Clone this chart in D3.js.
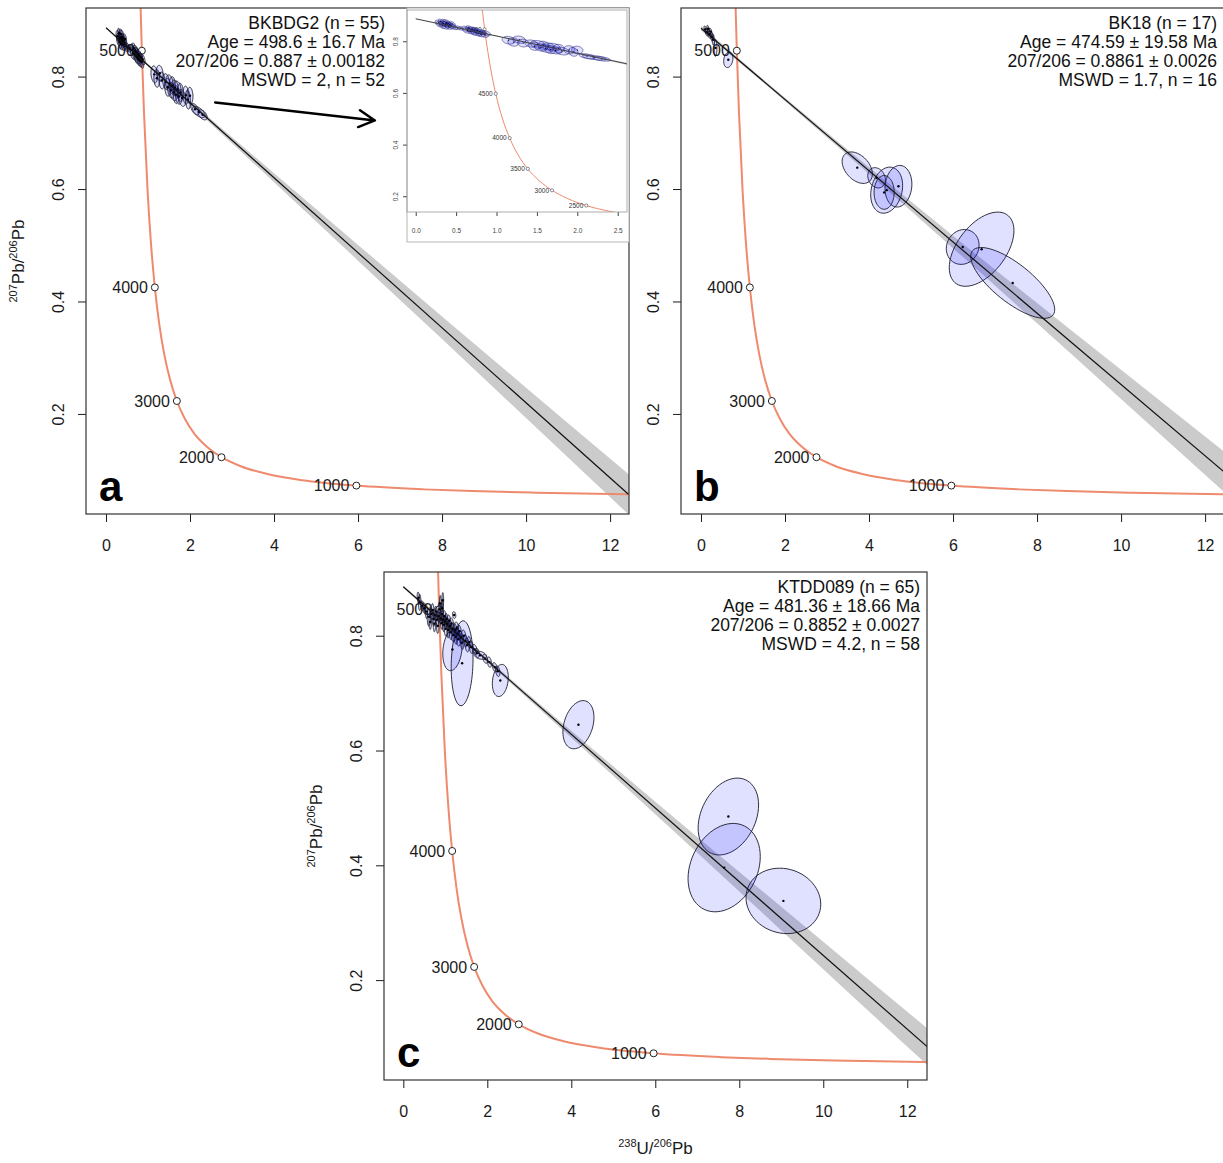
<!DOCTYPE html>
<html>
<head>
<meta charset="utf-8">
<script src="https://cdn.jsdelivr.net/npm/d3@7"></script>
<style>
body { margin: 0; background: #fff; }
svg { display: block; }
text { font-family: "Liberation Sans", Arial, Helvetica, sans-serif; }
</style>
</head>
<body>
<svg id="chart" width="1223" height="1163"></svg>
<script>
// sample names and fit results
var PANEL_LETTERS = ['a', 'b', 'c'];
var SAMPLES = ['BKBDG2 (n = 55)', 'BK18 (n = 17)', 'KTDD089 (n = 65)'];
var AGE_LABELS = ['Age = 498.6 \u00b1 16.7 Ma', 'Age = 474.59 \u00b1 19.58 Ma', 'Age = 481.36 \u00b1 18.66 Ma'];
var RATIO_LABELS = ['207/206 = 0.887 \u00b1 0.00182', '207/206 = 0.8861 \u00b1 0.0026', '207/206 = 0.8852 \u00b1 0.0027'];
var MSWD_LABELS = ['MSWD = 2, n = 52', 'MSWD = 1.7, n = 16', 'MSWD = 4.2, n = 58'];

// discordia: 207/206 intercept at x=0 and the lower intercept on the concordia
var INTERCEPT_Y = [0.887, 0.8861, 0.8852];
var LOWER_X = [12.436, 13.089, 12.899];
var LOWER_Y = [0.0572, 0.0566, 0.0568];

// error envelope half widths (207/206 units) at BAND_X
var BAND_X = [0, 2, 4, 6, 8, 10, 12.5];
var BAND_A = [0.001, 0.003, 0.008, 0.014, 0.020, 0.027, 0.036];
var BAND_B = [0.004, 0.003, 0.006, 0.011, 0.018, 0.026, 0.036];
var BAND_C = [0.002, 0.003, 0.006, 0.011, 0.017, 0.024, 0.032];

// Tera-Wasserburg concordia, ages in Ma
var CONC_AGE = [5200, 5150, 5100, 5000, 4800, 4500, 4250, 4000, 3750, 3500, 3250, 3000, 2750, 2500, 2250, 2000, 1750, 1500, 1250, 1000, 800, 700, 600, 500, 450];
var CONC_X = [0.806, 0.818, 0.829, 0.853, 0.905, 0.990, 1.071, 1.163, 1.267, 1.387, 1.525, 1.687, 1.880, 2.111, 2.394, 2.749, 3.206, 3.817, 4.673, 5.960, 7.568, 8.718, 10.252, 12.399, 13.831];
var CONC_Y = [0.974, 0.940, 0.908, 0.846, 0.735, 0.597, 0.503, 0.425, 0.360, 0.306, 0.261, 0.223, 0.191, 0.164, 0.142, 0.123, 0.107, 0.0936, 0.0822, 0.0725, 0.0658, 0.0628, 0.0599, 0.0572, 0.0560];
var MARK_AGES = [1000, 2000, 3000, 4000, 5000];
var INSET_MARK_AGES = [2000, 2500, 3000, 3500, 4000, 4500, 5000];

// error ellipses: [238U/206Pb, 207Pb/206Pb, half width x, half width y, rho]
var ELL_A = [
	[0.28,0.872,0.04,0.010,-0.4],[0.30,0.866,0.05,0.011,-0.3],[0.31,0.877,0.03,0.009,-0.5],[0.33,0.861,0.04,0.012,-0.4],
	[0.34,0.869,0.05,0.010,-0.3],[0.35,0.876,0.04,0.009,-0.4],[0.36,0.858,0.05,0.011,-0.5],[0.37,0.866,0.04,0.010,-0.4],
	[0.38,0.871,0.05,0.012,-0.3],[0.39,0.862,0.04,0.010,-0.4],[0.40,0.868,0.03,0.009,-0.5],[0.41,0.857,0.05,0.011,-0.4],
	[0.42,0.864,0.04,0.010,-0.3],[0.44,0.860,0.05,0.011,-0.4],[0.45,0.867,0.04,0.009,-0.4],[0.47,0.855,0.05,0.010,-0.5],
	[0.52,0.852,0.04,0.007,-0.3],[0.56,0.850,0.03,0.007,-0.3],
	[0.62,0.848,0.05,0.010,-0.4],[0.64,0.842,0.06,0.011,-0.3],[0.66,0.851,0.04,0.009,-0.4],[0.68,0.839,0.05,0.011,-0.5],
	[0.70,0.846,0.06,0.010,-0.4],[0.72,0.836,0.05,0.012,-0.3],[0.73,0.843,0.04,0.010,-0.4],[0.75,0.833,0.06,0.011,-0.4],
	[0.76,0.840,0.05,0.010,-0.5],[0.78,0.830,0.04,0.011,-0.3],[0.79,0.837,0.06,0.010,-0.4],[0.81,0.828,0.05,0.011,-0.4],
	[0.83,0.834,0.04,0.009,-0.3],[0.85,0.826,0.05,0.011,-0.4],[0.87,0.831,0.06,0.010,-0.5],
	[1.15,0.804,0.08,0.015,-0.2],[1.21,0.797,0.07,0.016,-0.1],[1.28,0.806,0.08,0.014,-0.2],[1.33,0.793,0.07,0.015,-0.1],
	[1.43,0.791,0.08,0.014,-0.2],[1.47,0.781,0.07,0.016,-0.1],[1.51,0.788,0.09,0.015,-0.2],[1.55,0.776,0.08,0.014,-0.2],
	[1.58,0.784,0.07,0.016,-0.1],[1.61,0.772,0.09,0.015,-0.3],[1.64,0.780,0.08,0.014,-0.2],[1.67,0.768,0.07,0.016,-0.1],
	[1.70,0.777,0.09,0.015,-0.2],[1.73,0.765,0.08,0.014,-0.2],[1.77,0.772,0.07,0.016,-0.1],[1.81,0.762,0.09,0.015,-0.3],
	[1.90,0.767,0.07,0.016,-0.1],[1.95,0.759,0.06,0.017,-0.2],[2.00,0.766,0.07,0.015,-0.1],
	[2.12,0.742,0.10,0.010,-0.5],[2.21,0.737,0.15,0.010,-0.6],[2.30,0.732,0.11,0.009,-0.5]
];
var ELL_B = [
	[0.10,0.884,0.03,0.006,-0.5],[0.14,0.879,0.04,0.007,-0.4],[0.17,0.885,0.03,0.006,-0.6],[0.20,0.876,0.04,0.008,-0.4],
	[0.23,0.880,0.03,0.006,-0.5],[0.26,0.871,0.04,0.008,-0.4],[0.29,0.866,0.03,0.010,-0.3],[0.345,0.851,0.035,0.015,0.0],
	[0.65,0.830,0.11,0.014,0.2],
	[3.72,0.638,0.36,0.028,-0.4],[4.18,0.620,0.21,0.018,-0.2],[4.42,0.598,0.38,0.041,0.2],[4.70,0.605,0.32,0.037,0.1],
	[4.36,0.594,0.24,0.030,0.0],
	[6.23,0.497,0.39,0.031,0.1],[6.68,0.493,0.77,0.066,0.5],[7.42,0.433,1.00,0.063,-0.75]
];
var ELL_C = [
	[0.36,0.866,0.03,0.010,-0.3],[0.39,0.858,0.03,0.014,0.0],[0.45,0.852,0.03,0.009,-0.3],[0.50,0.848,0.04,0.010,-0.4],
	[0.55,0.842,0.03,0.012,-0.2],[0.61,0.833,0.04,0.016,0.1],[0.64,0.824,0.03,0.013,0.0],[0.67,0.838,0.04,0.010,-0.3],
	[0.70,0.845,0.03,0.011,-0.2],[0.72,0.829,0.04,0.012,-0.3],[0.74,0.821,0.03,0.014,0.0],[0.76,0.836,0.04,0.010,-0.3],
	[0.78,0.842,0.03,0.009,-0.4],[0.80,0.828,0.04,0.011,-0.3],[0.82,0.817,0.03,0.013,0.0],[0.84,0.834,0.04,0.010,-0.3],
	[0.86,0.846,0.03,0.012,-0.2],[0.88,0.856,0.02,0.014,0.0],[0.89,0.830,0.04,0.010,-0.3],[0.91,0.822,0.03,0.011,-0.4],
	[0.92,0.838,0.04,0.012,-0.3],[0.94,0.862,0.02,0.013,0.0],[0.95,0.828,0.04,0.010,-0.3],[0.96,0.819,0.03,0.012,-0.2],
	[0.98,0.834,0.04,0.010,-0.3],[1.00,0.825,0.03,0.011,-0.4],[1.01,0.812,0.04,0.013,-0.2],[1.03,0.829,0.03,0.010,-0.3],
	[1.05,0.821,0.04,0.011,-0.3],[1.07,0.810,0.03,0.014,0.0],[1.09,0.826,0.04,0.010,-0.3],[1.11,0.817,0.05,0.011,-0.4],
	[1.13,0.806,0.04,0.013,-0.2],[1.15,0.821,0.05,0.010,-0.3],[1.17,0.812,0.04,0.011,-0.3],[1.19,0.801,0.05,0.012,-0.2],
	[1.21,0.836,0.04,0.006,-0.2],[1.23,0.810,0.05,0.011,-0.3],[1.25,0.798,0.04,0.013,-0.2],[1.27,0.814,0.05,0.010,-0.3],
	[1.29,0.803,0.04,0.011,-0.3],[1.31,0.794,0.05,0.012,-0.2],[1.34,0.808,0.04,0.010,-0.3],[1.37,0.797,0.05,0.011,-0.3],
	[1.40,0.788,0.04,0.012,-0.2],[1.44,0.800,0.05,0.010,-0.3],[1.48,0.791,0.04,0.011,-0.3],[1.52,0.784,0.05,0.012,-0.2],
	[1.57,0.789,0.04,0.010,-0.3],[1.62,0.780,0.05,0.011,-0.3],[1.70,0.776,0.06,0.009,-0.4],[1.76,0.770,0.05,0.008,-0.3],
	[1.95,0.760,0.06,0.008,-0.4],[2.05,0.754,0.05,0.009,-0.3],[2.18,0.745,0.06,0.008,-0.4],[2.25,0.738,0.05,0.009,-0.3],
	[0.93,0.848,0.02,0.015,0.0],
	[1.17,0.776,0.23,0.037,0.2],[1.40,0.752,0.26,0.074,0.1],[1.83,0.766,0.15,0.007,-0.3],[2.31,0.722,0.19,0.028,0.2],
	[4.17,0.645,0.37,0.042,0.3],[7.74,0.485,0.72,0.067,0.3],[7.64,0.396,0.86,0.077,0.25],[9.05,0.338,0.89,0.057,-0.1]
];

var X_TICKS = [0, 2, 4, 6, 8, 10, 12];
var Y_TICKS = [0.2, 0.4, 0.6, 0.8];
var INSET_X_TICKS = [0, 0.5, 1, 1.5, 2, 2.5];
var INSET_Y_TICKS = [0.2, 0.4, 0.6, 0.8];

// arrow from the data cloud to the inset, in panel a units
var ARROW = [[2.6, 0.754], [6.4, 0.722]];

// ---- layout ----
var FRAMES = [
	{x0: 86, x1: 629, y0: 8, y1: 514, xd: [-0.476, 12.45], yd: [0.022, 0.922]},
	{x0: 681, x1: 1224, y0: 8, y1: 514, xd: [-0.476, 12.45], yd: [0.022, 0.922]},
	{x0: 384, x1: 927, y0: 572, y1: 1080, xd: [-0.46, 12.47], yd: [0.026, 0.911]}
];
var INSET = {x0: 407, x1: 627, y0: 10, y1: 212, xd: [-0.108, 2.615], yd: [0.139, 0.921]};
var TEXT_RIGHT = [385, 1217, 920];

var MAIN_STYLE = {labelSize: 16, labelGap: 7, circleR: 3.5, ellStroke: '#1b1b2b', ellWidth: 0.9, dotR: 1.2,
	lineColor: '#111', lineWidth: 1.2, concWidth: 2, bandFill: '#cbcbcb', textColor: '#1a1a1a'};
var INSET_STYLE = {labelSize: 6.5, labelGap: 3, circleR: 1.6, ellStroke: '#2e2e80', ellWidth: 0.6, dotR: 0.6,
	lineColor: '#444', lineWidth: 1, concWidth: 1, bandFill: '#d4d4d4', textColor: '#333'};

var svg = d3.select('#chart');
svg.append('rect').attr('width', 1223).attr('height', 1163).attr('fill', 'white');

function discordY(i, x) {
	return INTERCEPT_Y[i] + (LOWER_Y[i] - INTERCEPT_Y[i]) * x / LOWER_X[i];
}

function ellipsePoints(e, sx, sy) {
	var r = Math.sqrt(1 - e[4] * e[4]);
	return d3.range(64).map(function(k) {
		var t = k / 64 * 2 * Math.PI;
		return [sx(e[0] + e[2] * Math.cos(t)), sy(e[1] + e[3] * (e[4] * Math.cos(t) + r * Math.sin(t)))];
	});
}

function addClip(id, f) {
	svg.append('clipPath').attr('id', id).append('rect')
		.attr('x', f.x0).attr('y', f.y0)
		.attr('width', f.x1 - f.x0).attr('height', f.y1 - f.y0);
}

// everything inside the plot box
function drawContents(plot, sx, sy, i, ells, band, markAges, st) {
	// error envelope
	var area = d3.area()
		.x(function(d) { return sx(d); })
		.y0(function(d, j) { return sy(discordY(i, d) - band[j]); })
		.y1(function(d, j) { return sy(discordY(i, d) + band[j]); })
		.curve(d3.curveMonotoneX);
	plot.append('path').datum(BAND_X)
		.attr('d', area)
		.attr('fill', st.bandFill);

	// concordia
	var pts = CONC_X.map(function(x, j) { return [x, CONC_Y[j]]; });
	plot.append('path').datum(pts)
		.attr('d', d3.line().x(function(d) { return sx(d[0]); }).y(function(d) { return sy(d[1]); }).curve(d3.curveMonotoneX))
		.attr('fill', 'none')
		.attr('stroke', '#ee8a6e')
		.attr('stroke-width', st.concWidth);

	markAges.forEach(function(age) {
		var k = CONC_AGE.indexOf(age);
		var cx = sx(CONC_X[k]), cy = sy(CONC_Y[k]);
		plot.append('text')
			.attr('x', cx - st.labelGap)
			.attr('y', cy + st.labelSize * 0.36)
			.attr('text-anchor', 'end')
			.attr('font-size', st.labelSize)
			.attr('fill', st.textColor)
			.text(age);
		plot.append('circle')
			.attr('cx', cx).attr('cy', cy).attr('r', st.circleR)
			.attr('fill', 'white')
			.attr('stroke', '#222')
			.attr('stroke-width', st.circleR > 2 ? 1 : 0.5);
	});

	// error ellipses
	var closed = d3.line().curve(d3.curveLinearClosed);
	plot.append('g').selectAll('path').data(ells).join('path')
		.attr('d', function(e) { return closed(ellipsePoints(e, sx, sy)); })
		.attr('fill', 'rgba(0,0,255,0.12)')
		.attr('stroke', st.ellStroke)
		.attr('stroke-width', st.ellWidth);
	plot.append('g').selectAll('circle').data(ells).join('circle')
		.attr('cx', function(e) { return sx(e[0]); })
		.attr('cy', function(e) { return sy(e[1]); })
		.attr('r', st.dotR)
		.attr('fill', '#000');

	// regression line
	plot.append('line')
		.attr('x1', sx(0)).attr('y1', sy(INTERCEPT_Y[i]))
		.attr('x2', sx(LOWER_X[i])).attr('y2', sy(LOWER_Y[i]))
		.attr('stroke', st.lineColor)
		.attr('stroke-width', st.lineWidth);
}

function drawAxes(g, f, sx, sy, xTicks, yTicks, o) {
	var xa = d3.axisBottom(sx).tickValues(xTicks).tickSize(o.tick).tickSizeOuter(0)
		.tickPadding(o.xPad).tickFormat(o.xFmt);
	var gx = g.append('g').attr('transform', 'translate(0,' + f.y1 + ')').call(xa);
	gx.select('.domain').remove();
	gx.attr('font-size', o.font).attr('color', o.color);

	var ya = d3.axisLeft(sy).tickValues(yTicks).tickSize(o.tick).tickSizeOuter(0).tickFormat(d3.format('.1f'));
	var gy = g.append('g').attr('transform', 'translate(' + f.x0 + ',0)').call(ya);
	gy.select('.domain').remove();
	gy.attr('font-size', o.font).attr('color', o.color);
	gy.selectAll('text')
		.attr('x', null).attr('dy', null)
		.attr('text-anchor', 'middle')
		.attr('transform', 'translate(' + (-o.yPad) + ',0) rotate(-90)');

	g.append('rect')
		.attr('x', f.x0).attr('y', f.y0)
		.attr('width', f.x1 - f.x0).attr('height', f.y1 - f.y0)
		.attr('fill', 'none')
		.attr('stroke', o.boxColor)
		.attr('stroke-width', o.boxWidth);
}

function pbTitle(sel, a, b, c) {
	sel.append('tspan').attr('font-size', 11).attr('dy', -7).text(a);
	sel.append('tspan').attr('dy', 7).text(b);
	sel.append('tspan').attr('font-size', 11).attr('dy', -7).text('206');
	sel.append('tspan').attr('dy', 7).text(c);
}

function drawPanel(i, ells, band) {
	var f = FRAMES[i];
	var sx = d3.scaleLinear().domain(f.xd).range([f.x0, f.x1]);
	var sy = d3.scaleLinear().domain(f.yd).range([f.y1, f.y0]);
	var g = svg.append('g').attr('id', 'panel-' + PANEL_LETTERS[i]);

	addClip('clip-' + i, f);
	var plot = g.append('g').attr('clip-path', 'url(#clip-' + i + ')');
	drawContents(plot, sx, sy, i, ells, band, MARK_AGES, MAIN_STYLE);

	drawAxes(g, f, sx, sy, X_TICKS, Y_TICKS, {tick: 8, xPad: 18, yPad: 22, font: 16, color: '#1a1a1a',
		xFmt: d3.format('d'), boxColor: '#333', boxWidth: 1.2});

	// fit summary
	[SAMPLES[i], AGE_LABELS[i], RATIO_LABELS[i], MSWD_LABELS[i]].forEach(function(s, k) {
		g.append('text')
			.attr('x', TEXT_RIGHT[i])
			.attr('y', f.y0 + 21 + k * 19)
			.attr('text-anchor', 'end')
			.attr('font-size', 17.5)
			.attr('fill', '#111')
			.text(s);
	});

	// panel letter
	g.append('text')
		.attr('x', f.x0 + 13)
		.attr('y', f.y1 - 13)
		.attr('font-size', 42)
		.attr('font-weight', 'bold')
		.attr('fill', '#000')
		.text(PANEL_LETTERS[i]);

	return {sx: sx, sy: sy, g: g};
}

var pa = drawPanel(0, ELL_A, BAND_A);
drawPanel(1, ELL_B, BAND_B);
drawPanel(2, ELL_C, BAND_C);

// y titles on a and c, x title on c
[0, 2].forEach(function(i) {
	var f = FRAMES[i];
	var t = svg.append('text')
		.attr('transform', 'translate(' + (f.x0 - 62) + ',' + ((f.y0 + f.y1) / 2) + ') rotate(-90)')
		.attr('text-anchor', 'middle')
		.attr('font-size', 17)
		.attr('fill', '#1a1a1a');
	pbTitle(t, '207', 'Pb/', 'Pb');
});
var fc = FRAMES[2];
var xt = svg.append('text')
	.attr('x', (fc.x0 + fc.x1) / 2)
	.attr('y', fc.y1 + 74)
	.attr('text-anchor', 'middle')
	.attr('font-size', 17)
	.attr('fill', '#1a1a1a');
pbTitle(xt, '238', 'U/', 'Pb');

// ---- inset (zoom of panel a) ----
(function() {
	var f = INSET;
	var sx = d3.scaleLinear().domain(f.xd).range([f.x0, f.x1]);
	var sy = d3.scaleLinear().domain(f.yd).range([f.y1, f.y0]);
	var g = svg.append('g').attr('id', 'inset');
	g.append('rect')
		.attr('x', f.x0).attr('y', f.y0 - 2)
		.attr('width', FRAMES[0].x1 - f.x0).attr('height', 234)
		.attr('fill', 'white')
		.attr('stroke', '#b5b5b5')
		.attr('stroke-width', 1);
	addClip('clip-inset', f);
	var plot = g.append('g').attr('clip-path', 'url(#clip-inset)');
	drawContents(plot, sx, sy, 0, ELL_A, BAND_A, INSET_MARK_AGES, INSET_STYLE);
	drawAxes(g, f, sx, sy, INSET_X_TICKS, INSET_Y_TICKS, {tick: 4, xPad: 12, yPad: 9, font: 6.5, color: '#444',
		xFmt: d3.format('.1f'), boxColor: '#999', boxWidth: 0.8});
})();

// arrow pointing to the inset
var a0 = [pa.sx(ARROW[0][0]), pa.sy(ARROW[0][1])];
var a1 = [pa.sx(ARROW[1][0]), pa.sy(ARROW[1][1])];
var ang = Math.atan2(a1[1] - a0[1], a1[0] - a0[0]);
var head = 18, spread = 28 * Math.PI / 180;
svg.append('path')
	.attr('d', 'M' + a0 + 'L' + a1 +
		'M' + [a1[0] - head * Math.cos(ang + spread), a1[1] - head * Math.sin(ang + spread)] + 'L' + a1 +
		'L' + [a1[0] - head * Math.cos(ang - spread), a1[1] - head * Math.sin(ang - spread)])
	.attr('fill', 'none')
	.attr('stroke', '#000')
	.attr('stroke-width', 2.5)
	.attr('stroke-linecap', 'round')
	.attr('stroke-linejoin', 'round');
</script>
</body>
</html>
